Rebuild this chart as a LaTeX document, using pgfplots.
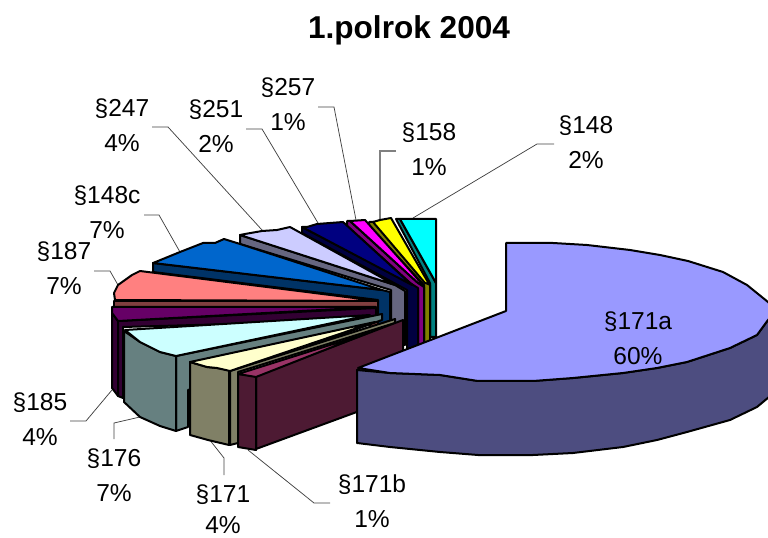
\documentclass[border=0pt]{standalone}
\usepackage{pgfplots}
\usepackage{fontspec}
\setmainfont{Liberation Sans}
\pgfplotsset{compat=1.18}
\definecolor{cA}{HTML}{9999FF}\definecolor{cAd}{HTML}{4D4D80}
\definecolor{cB}{HTML}{00FFFF}\definecolor{cBd}{HTML}{008080}
\definecolor{cC}{HTML}{FFFF00}\definecolor{cCd}{HTML}{808000}
\definecolor{cD}{HTML}{FF00FF}\definecolor{cDd}{HTML}{800080}
\definecolor{cE}{HTML}{000080}\definecolor{cEd}{HTML}{000040}
\definecolor{cF}{HTML}{CCCCFF}\definecolor{cFd}{HTML}{666680}
\definecolor{cG}{HTML}{0066CC}\definecolor{cGd}{HTML}{003366}
\definecolor{cH}{HTML}{FF8080}\definecolor{cHd}{HTML}{804040}
\definecolor{cI}{HTML}{660066}\definecolor{cId}{HTML}{330033}
\definecolor{cJ}{HTML}{CCFFFF}\definecolor{cJd}{HTML}{668080}
\definecolor{cK}{HTML}{FFFFCC}\definecolor{cKd}{HTML}{808066}
\definecolor{cL}{HTML}{993366}\definecolor{cLd}{HTML}{4D1A33}
\definecolor{leader}{HTML}{404040}
\newcommand\face[2]{\addplot[fill=#1,draw=black,line width=1.5pt,line join=round,mark=none] coordinates {#2} -- cycle;}
\newcommand\leader[1]{\addplot[draw=leader,line width=0.55pt,mark=none] coordinates {#1};}
\newcommand\lab[3]{\node[align=center,inner sep=0pt,font=\fontsize{18.4}{25.9}\selectfont] at (axis cs:#1) {#2\\#3};}
\begin{document}
\begin{tikzpicture}
\useasboundingbox (0,0) rectangle (576pt,403.5pt);
\begin{axis}[at={(0,0)},anchor=south west,width=576pt,height=403.5pt,scale only axis,
  xmin=0,xmax=768,ymin=0,ymax=538,y dir=reverse,hide axis,clip=true]
% leaders
\leader{(152,127)(168,127)(262,230)}
\leader{(246,129)(262,129)(318,223)}
\leader{(318,107)(334,107)(356,220)}
\addplot[draw=gray,line width=0.9pt,mark=none] coordinates {(396,151)(380,151)(380,219)};
\leader{(554,144)(537,144)(413,218)}
\leader{(144,215)(159,215)(180,252)}
\leader{(94,271)(110,271)(118,285)}
\leader{(70,421)(86,421)(112,390)}
\leader{(114,439)(114,423)(140,417)}
\leader{(224,475)(224,458)(209,439)}
\leader{(330,503)(314,503)(248,450)}
% 148
\face{cBd}{(396,219)(400,219)(436,283)(436,337)(430,337)(430,283)}
\face{cB}{(400,219)(436,219)(436,283)}
% 158
\face{cCd}{(369,222)(374,222)(425,282)(430,285)(430,341)(424,343)(424,285)(369,226)}
\face{cC}{(373,222)(380,220)(391,218)(429,284)(425,283)}
% 257
\face{cDd}{(347,221)(350,221)(418,283)(424,287)(424,345)(418,346)(418,290)(347,226)}
\face{cD}{(350,221)(365,220)(423,285)(418,283)}
% 251
\face{cEd}{(302,227)(410,283)(418,288)(418,345)(407,350)(407,290)(302,233)}
\face{cE}{(302,227)(307,227)(317,224)(330,223)(343,222)(412,285)}
% 247
\face{cFd}{(240,235)(395,285)(405,291)(405,345)(391,345)(391,290)(240,244)}
\face{cF}{(240,235)(245,234)(262,231)(277,230)(290,227)(395,285)}
% 148c
\face{cGd}{(153,263)(382,290)(390,292)(390,325)(378,325)(378,300)(153,272)}
\face{cG}{(153,263)(158,261)(180,252)(203,243)(215,243)(224,239)(240,244)(382,290)}
% 187
\face{cHd}{(114,301)(378,301)(378,330)(370,330)(370,307)(114,307)}
\face{cH}{(115,300)(114,293)(118,285)(132,275)(140,271)(378,301)}
% 185
\face{cId}{(112,313)(118,321)(118,396)(112,388)}
\face{cId}{(118,321)(376,308)(376,320)(123,327)(123,398)(118,396)}
\face{cI}{(112,307)(376,307)(118,321)(112,313)}
% 176
\face{cJd}{(176,356)(382,314)(382,320)(188,390)(188,427)(176,431)}
\face{cJd}{(124,331)(140,342)(160,352)(176,356)(176,431)(160,426)(140,417)(124,402)}
\face{cJ}{(125,330)(140,342)(160,352)(176,356)(370,315)}
% 171
\face{cKd}{(230,371)(395,319)(395,323)(238,372)(238,443)(230,445)}
\face{cKd}{(190,362)(207,367)(217,368)(229,370)(229,445)(208,440)(190,435)}
\face{cK}{(190,362)(207,367)(217,368)(230,371)(375,322)}
% 171b
\face{cLd}{(256,376)(403,320)(403,395)(256,449)}
\face{cLd}{(238,374)(256,376)(256,450)(238,447)}
\face{cL}{(238,374)(256,377)(368,333)}
% 171a
\face{cAd}{(357,370)(390,373)(440,375)(478,381)(533,381)(573,378)(623,373)(657,368)(687,362)(730,348)(757,335)(768,320)(775,312)(775,392)(757,407)(730,420)(687,432)(657,440)(623,447)(573,453)(533,455)(478,455)(440,452)(390,447)(357,443)}
\face{cA}{(506,243)(553,243)(587,245)(630,250)(660,255)(688,261)(723,272)(747,285)(768,302)(775,310)(775,312)(768,320)(757,335)(730,348)(687,362)(657,368)(623,373)(573,378)(533,381)(478,381)(440,375)(390,373)(358,368)(506,311)}
% labels
\lab{638,338}{§171a}{60\%}
\lab{586,142}{§148}{2\%}
\lab{429,149}{§158}{1\%}
\lab{288,104}{§257}{1\%}
\lab{216,126}{§251}{2\%}
\lab{122,125}{§247}{4\%}
\lab{107,212}{§148c}{7\%}
\lab{64,268}{§187}{7\%}
\lab{40,419}{§185}{4\%}
\lab{114,475}{§176}{7\%}
\node[inner sep=0pt,font=\fontsize{18.4}{25.9}\selectfont] at (axis cs:223,495) {§171};
\node[inner sep=0pt,font=\fontsize{18.4}{25.9}\selectfont] at (axis cs:223,525) {4\%};
\lab{372,501}{§171b}{1\%}
\node[inner sep=0pt,font=\fontsize{23.7}{28}\selectfont\bfseries] at (axis cs:409,30) {1.polrok 2004};
\end{axis}
\end{tikzpicture}
\end{document}
